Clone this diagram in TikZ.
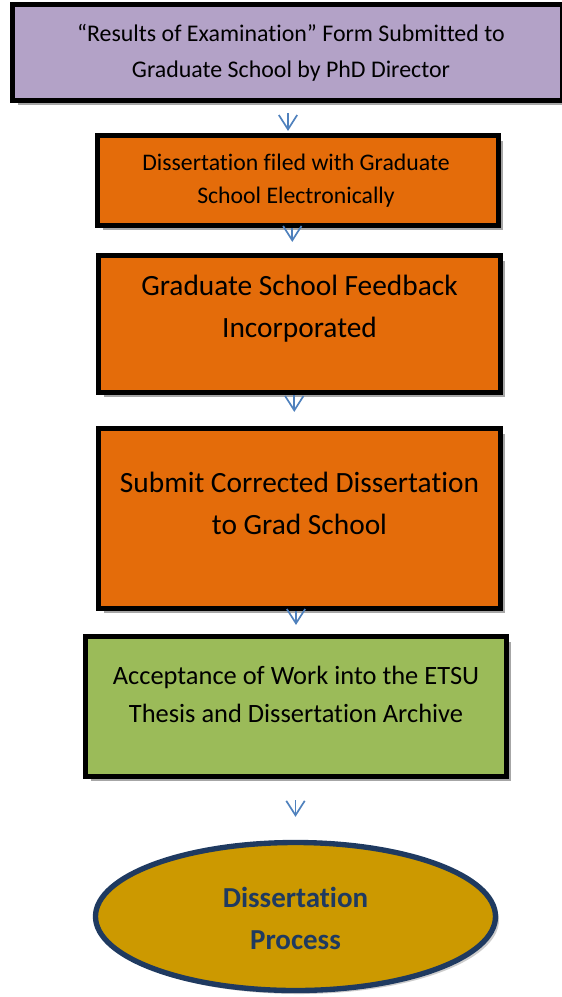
\documentclass[tikz,border=0pt]{standalone}
\usepackage{fontspec}
\setmainfont[Ligatures={TeX,NoCommon}]{Carlito}
\usetikzlibrary{arrows.meta,shadows,shapes.geometric}
\definecolor{boxpurple}{HTML}{B3A2C7}
\definecolor{boxorange}{HTML}{E46C0A}
\definecolor{boxgreen}{HTML}{9BBB59}
\definecolor{ovalgold}{HTML}{CC9900}
\definecolor{ovalnavy}{HTML}{1F3A60}
\definecolor{arrowblue}{HTML}{4F81BD}
\tikzset{
  stepbox/.style={draw=black, line width=3.8pt, rectangle, inner sep=0pt,
    drop shadow={shadow xshift=3.5pt, shadow yshift=-3.5pt, fill=black!35, opacity=1}},
  steptext/.style={align=center, inner sep=0pt, text=black},
  flow/.style={draw=arrowblue, line width=1.2pt, -{Straight Barb[length=0.36cm,width=0.46cm]}},
}
\begin{document}
\begin{tikzpicture}
\useasboundingbox (0,0) rectangle (14.05,-24.925);
% boxes
\node[stepbox, fill=boxpurple, minimum width=13.74cm, minimum height=2.395cm] (res) at (7.185,-1.3125) {};
\node[stepbox, fill=boxorange, minimum width=10.02cm, minimum height=2.245cm] (filed) at (7.45,-4.5125) {};
\node[stepbox, fill=boxorange, minimum width=10.045cm, minimum height=3.42cm] (feedback) at (7.4875,-8.1) {};
\node[stepbox, fill=boxorange, minimum width=10.045cm, minimum height=4.495cm] (corrected) at (7.4875,-12.9625) {};
\node[stepbox, fill=boxgreen, minimum width=10.52cm, minimum height=3.495cm] (accept) at (7.4,-17.6625) {};
\node[ellipse, draw=ovalnavy, line width=3.8pt, fill=ovalgold, minimum width=10.0cm, minimum height=3.7cm,
  drop shadow={shadow xshift=2.5pt, shadow yshift=-2.5pt, fill=black!20, opacity=1}] (process) at (7.3875,-22.9125) {};

% texts
\node[steptext, font=\fontsize{17}{25.6}\selectfont] (res-txt) at ([xshift=0.09cm]res.center)
  {“Results of Examination” Form Submitted to\\Graduate School by PhD Director};
\node[steptext, font=\fontsize{16.9}{23.5}\selectfont] (filed-txt) at ([xshift=-0.05cm]filed.center)
  {Dissertation filed with Graduate\\School Electronically};
\node[steptext, font=\fontsize{20.9}{30}\selectfont] (feedback-txt) at ([yshift=0.375cm]feedback.center)
  {Graduate School Feedback\\Incorporated};
\node[steptext, font=\fontsize{20.9}{30}\selectfont] (corrected-txt) at ([yshift=0.375cm]corrected.center)
  {Submit Corrected Dissertation\\to Grad School};
\node[steptext, font=\fontsize{18.8}{27}\selectfont] (accept-txt) at ([yshift=0.3cm]accept.center)
  {Acceptance of Work into the ETSU\\Thesis and Dissertation Archive};
\node[steptext, text=ovalnavy, font=\fontsize{20.6}{30}\selectfont\bfseries] (process-txt) at ([yshift=-0.05cm]process.center)
  {Dissertation\\Process};

% arrows
\draw[flow, shorten <=0.25cm, shorten >=0.05cm] ([xshift=-0.25cm]filed.north |- res.south) -- ([xshift=-0.25cm]filed.north);
\draw[flow, shorten >=0.275cm] ([xshift=-0.18cm]feedback.north |- filed.south) -- ([xshift=-0.18cm]feedback.north);
\draw[flow, shorten >=0.35cm] ([xshift=-0.13cm]corrected.north |- feedback.south) -- ([xshift=-0.13cm]corrected.north);
\draw[flow, shorten >=0.225cm] (accept.north |- corrected.south) -- (accept.north);
\draw[flow, shorten <=0.525cm, shorten >=0.575cm] (process.north |- accept.south) -- (process.north);
\end{tikzpicture}
\end{document}
